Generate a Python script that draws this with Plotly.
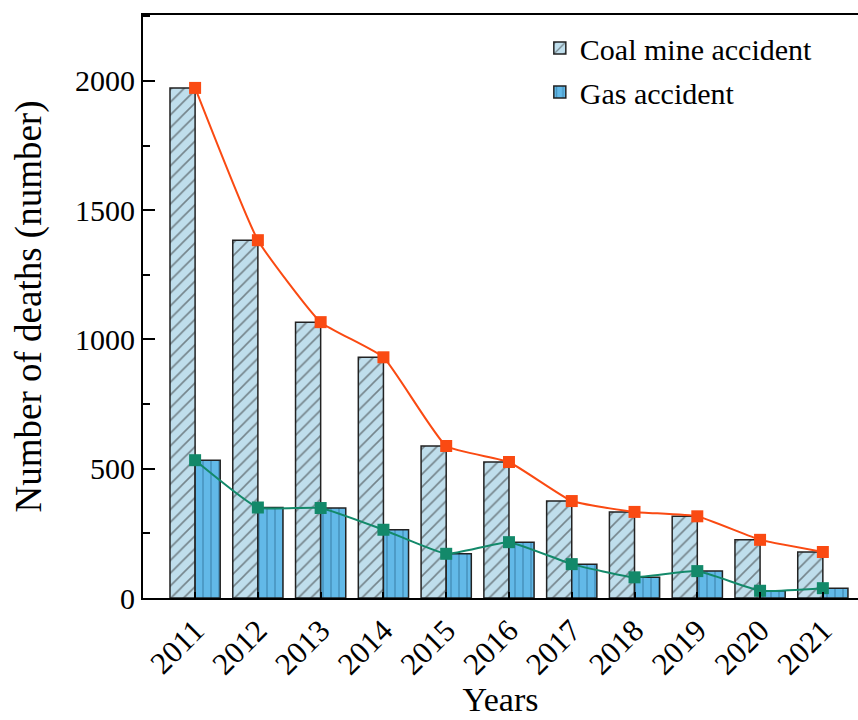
import plotly.graph_objects as go

# Coal mine deaths in China, 2011-2021
years = ["2011", "2012", "2013", "2014", "2015", "2016",
         "2017", "2018", "2019", "2020", "2021"]
coal_mine_deaths = [1973, 1384, 1067, 931, 588, 526, 375, 333, 316, 225, 178]
gas_deaths = [533, 350, 348, 264, 171, 216, 131, 80, 104, 28, 38]

SERIF = "Liberation Serif, Times New Roman, serif"

fig = go.Figure()

fig.add_trace(go.Bar(
    x=years, y=coal_mine_deaths, name="Coal mine accident",
    legendgroup="coal",
    marker=dict(
        color="#BFDEEC",
        line=dict(color="#222222", width=1.5),
        pattern=dict(shape="/", fgcolor="#2A2A2A", size=9, solidity=0.18),
    ),
))
fig.add_trace(go.Bar(
    x=years, y=gas_deaths, name="Gas accident",
    legendgroup="gas",
    marker=dict(
        color="#62B9E8",
        line=dict(color="#222222", width=1.5),
        pattern=dict(shape="|", fgcolor="#2C6E95", size=8, solidity=0.2),
    ),
))

# Trend lines over the bar tops
fig.add_trace(go.Scatter(
    x=years, y=coal_mine_deaths, mode="lines+markers", showlegend=False,
    line=dict(color="#FA4A12", width=2, shape="spline", smoothing=0.4),
    marker=dict(symbol="square", size=12, color="#FA4A12"),
))
fig.add_trace(go.Scatter(
    x=years, y=gas_deaths, mode="lines+markers", showlegend=False,
    line=dict(color="#13896A", width=2, shape="spline", smoothing=0.4),
    marker=dict(symbol="square", size=12, color="#13896A"),
))

fig.update_layout(
    width=858, height=720,
    margin=dict(l=143, r=0, t=15, b=122),
    paper_bgcolor="white", plot_bgcolor="white",
    barmode="group", bargap=0.2, bargroupgap=0,
    font=dict(family=SERIF, color="black", size=30),
    legend=dict(
        x=0.555, y=0.988, xanchor="left", yanchor="top",
        font=dict(family=SERIF, size=30),
        bgcolor="rgba(0,0,0,0)", tracegroupgap=2,
    ),
    xaxis=dict(
        type="category", range=[-0.83, 10.56],
        showline=True, linecolor="black", linewidth=2, mirror=True,
        ticks="inside", ticklen=6, tickwidth=2, tickcolor="black",
        tickangle=-45, tickfont=dict(size=31),
        title=dict(text="Years", font=dict(size=34), standoff=4),
        showgrid=False,
    ),
    yaxis=dict(
        range=[0, 2255], dtick=500, tick0=0,
        showline=True, linecolor="black", linewidth=2,
        ticks="inside", ticklen=12, tickwidth=2, tickcolor="black",
        minor=dict(dtick=250, ticks="inside", ticklen=7, tickwidth=2, tickcolor="black"),
        tickfont=dict(size=30),
        title=dict(text="Number of deaths (number)", font=dict(size=37), standoff=22),
        showgrid=False, zeroline=False,
    ),
)

fig.write_html("out.html")
